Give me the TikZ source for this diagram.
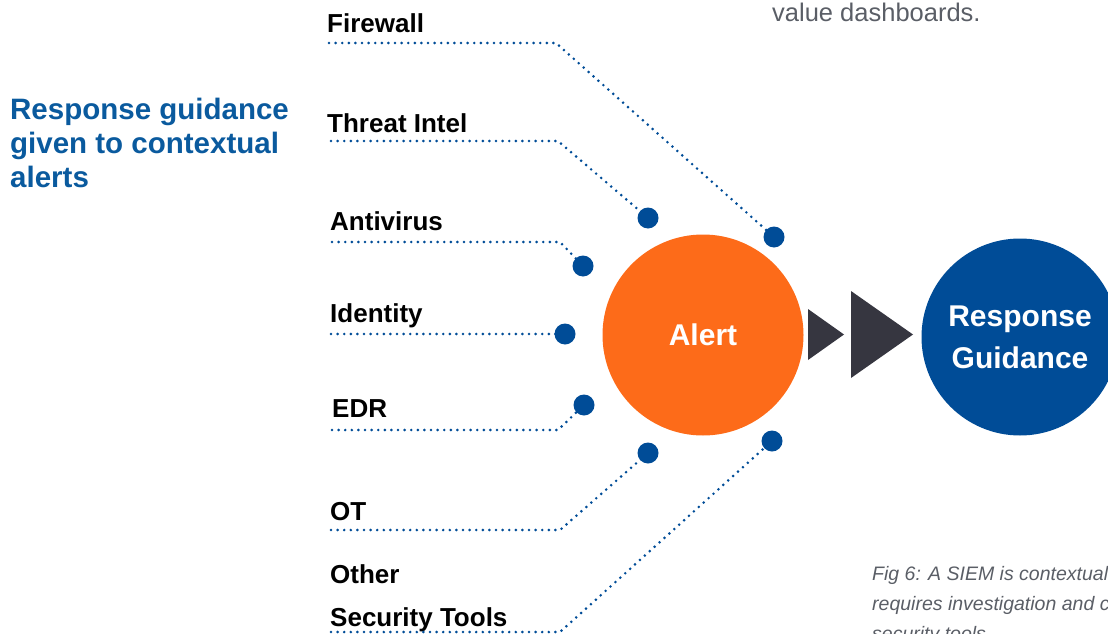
\documentclass[tikz,border=0pt]{standalone}
\usepackage{fontspec}
\setmainfont{Liberation Sans}
\definecolor{dotblue}{HTML}{004C97}
\definecolor{headblue}{HTML}{0A5A9E}
\definecolor{alertorange}{HTML}{FD6B19}
\definecolor{arrowdark}{HTML}{363640}
\definecolor{captiongray}{HTML}{5A5E66}
\tikzset{
  conn/.style={draw=dotblue, line width=2.9pt, line cap=round, dash pattern=on 0pt off 6.6pt},
  enddot/.style={circle, fill=dotblue, minimum size=21pt, inner sep=0pt},
  srclabel/.style={anchor=base west, inner sep=0pt, font=\fontsize{26}{30}\selectfont\bfseries},
  bigcircle/.style={circle, inner sep=0pt, text=white, align=center},
  playtri/.style={fill=arrowdark},
}
\begin{document}
\begin{tikzpicture}[x=1pt, y=-1pt]
\useasboundingbox (0,0) rectangle (1108,634);
\clip (0,0) rectangle (1108,634);

% top grey text
\node[anchor=base west, inner sep=0pt, text=captiongray, font=\fontsize{25.5}{30}\selectfont] (topt) at (772,22) {value dashboards.};

% heading
\node[anchor=north west, inner sep=0pt, text=headblue, align=left, font=\fontsize{29.5}{34}\selectfont\bfseries] (head) at (10,98) {Response guidance\\given to contextual\\alerts};

% circles
\node[bigcircle, fill=alertorange, minimum size=201pt, font=\fontsize{30}{34}\selectfont\bfseries] (alert) at (703,335) {Alert};
\node[bigcircle, fill=dotblue, minimum size=197pt, font=\fontsize{30}{42}\selectfont\bfseries] (resp) at (1020,337) {Response\\Guidance};

% play triangles
\fill[playtri] (808,309) -- (844,334.5) -- (808,360) -- cycle;
\fill[playtri] (851,291) -- (913,334.5) -- (851,378) -- cycle;

% labels
\node[srclabel] (fw) at (327,33) {Firewall};
\node[srclabel] (ti) at (327,132) {Threat Intel};
\node[srclabel] (av) at (330,230) {Antivirus};
\node[srclabel] (id) at (330,322) {Identity};
\node[srclabel] (edr) at (332,417) {EDR};
\node[srclabel] (ot) at (330,520) {OT};
\node[srclabel] (oth1) at (330,583) {Other};
\node[srclabel] (oth2) at (330,626) {Security Tools};

% line start and bend points
\coordinate (fw-s) at (329,43);  \coordinate (fw-b) at (556,43);
\coordinate (ti-s) at (331,141); \coordinate (ti-b) at (558,141);
\coordinate (av-s) at (332,242); \coordinate (av-b) at (560,242);
\coordinate (id-s) at (331,334);
\coordinate (edr-s) at (332,430); \coordinate (edr-b) at (558,430);
\coordinate (ot-s) at (331,530); \coordinate (ot-b) at (560,530);
\coordinate (oth-s) at (331,632); \coordinate (oth-b) at (560,632);

% connectors
\draw[conn] (fw-s) -- (fw-b) -- (774,237);
\draw[conn] (ti-s) -- (ti-b) -- (648,218);
\draw[conn] (av-s) -- (av-b) -- (583,266);
\draw[conn] (id-s) -- (565,334);
\draw[conn] (edr-s) -- (edr-b) -- (584,405);
\draw[conn] (ot-s) -- (ot-b) -- (648,453);
\draw[conn] (oth-s) -- (oth-b) -- (772,441);

% end dots
\node[enddot] (fw-d) at (774,237) {};
\node[enddot] (ti-d) at (648,218) {};
\node[enddot] (av-d) at (583,266) {};
\node[enddot] (id-d) at (565,334) {};
\node[enddot] (edr-d) at (584,405) {};
\node[enddot] (ot-d) at (648,453) {};
\node[enddot] (oth-d) at (772,441) {};

% caption
\node[anchor=north west, inner sep=0pt, text=captiongray, align=left, font=\fontsize{19.5}{30}\selectfont\itshape] (cap) at (872,566) {Fig 6: A SIEM is contextual,\\requires investigation and c\\security tools.};
\end{tikzpicture}
\end{document}
